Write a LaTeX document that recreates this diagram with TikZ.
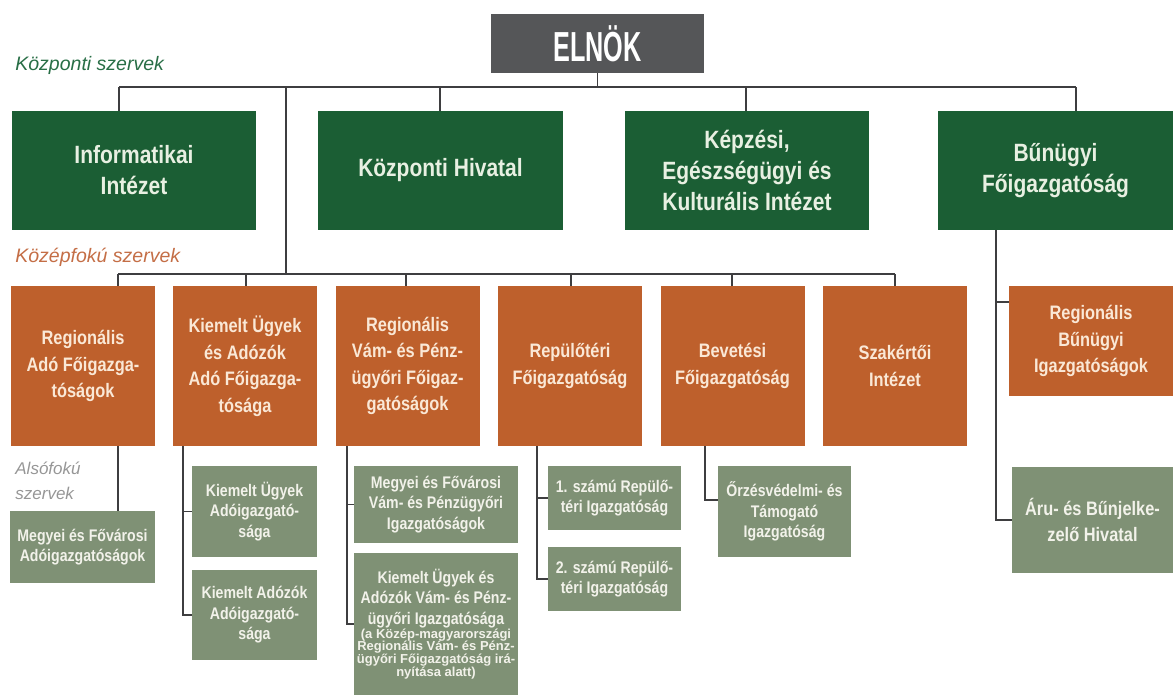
\documentclass[tikz,border=0pt]{standalone}
\usepackage{fontspec}
\setmainfont{Liberation Sans}
\newfontfamily\elnokfont[FakeStretch=0.6]{Liberation Sans Bold}
\newfontfamily\dobozfont[FakeStretch=0.84]{Liberation Sans Bold}
\newfontfamily\aprofont{Liberation Sans Bold}

\definecolor{elnokszurke}{RGB}{85,86,88}
\definecolor{kozpzold}{RGB}{27,94,52}
\definecolor{kozepnarancs}{RGB}{190,96,44}
\definecolor{alsoszurke}{RGB}{127,145,117}
\definecolor{vonalszin}{RGB}{62,62,64}
\definecolor{zoldbetu}{RGB}{232,240,226}
\definecolor{narancsbetu}{RGB}{250,232,214}
\definecolor{szurkebetu}{RGB}{242,242,234}
\definecolor{zoldcimke}{RGB}{40,110,70}
\definecolor{narancscimke}{RGB}{196,110,70}
\definecolor{szurkecimke}{RGB}{150,150,150}

\begin{document}
\begin{tikzpicture}[x=1pt, y=-1pt, thick,
  doboz/.style={rectangle, inner sep=0pt, align=center},
  zold/.style={doboz, fill=kozpzold, text=zoldbetu, minimum width=244pt, minimum height=119pt,
    font=\dobozfont\fontsize{25}{31}\selectfont},
  narancs/.style={doboz, fill=kozepnarancs, text=narancsbetu, minimum width=144pt, minimum height=160pt,
    font=\dobozfont\fontsize{19.5}{26.5}\selectfont},
  szurke/.style={doboz, fill=alsoszurke, text=szurkebetu, minimum width=125pt,
    font=\dobozfont\fontsize{16.8}{20.5}\selectfont},
  cimke/.style={anchor=west, inner sep=0pt, align=left, font=\itshape\fontsize{19.5}{25}\selectfont},
  vonal/.style={draw=vonalszin, line width=1.6pt}]
  \useasboundingbox (0,0) rectangle (1173,697);

  \node (Elnok) [doboz, fill=elnokszurke, text=white, minimum width=213pt, minimum height=59pt,
    font=\elnokfont\fontsize{42}{42}\selectfont] at (597.5,43.5) {ELNÖK};

  % kozponti szervek
  \node (Info)    [zold]                    at (134,170.5)    {Informatikai\\Intézet};
  \node (KozpHiv) [zold, minimum width=245pt] at (440.5,170.5) {Központi Hivatal};
  \node (Kepz)    [zold]                    at (747,170.5)    {Képzési,\\Egészségügyi és\\Kulturális Intézet};
  \node (BunFo)   [zold, minimum width=235pt] at (1055.5,170.5) {Bűnügyi\\Főigazgatóság};

  % kozepfoku szervek
  \node (RegAdo)   [narancs] at (83,366)    {Regionális\\Adó Főigazga-\\tóságok};
  \node (KiemAdo)  [narancs] at (245,366)   {Kiemelt Ügyek\\és Adózók\\Adó Főigazga-\\tósága};
  \node (RegVam)   [narancs] at (407.5,366) {Regionális\\Vám- és Pénz-\\ügyőri Főigaz-\\gatóságok};
  \node (Repter)   [narancs] at (570,366)   {Repülőtéri\\Főigazgatóság};
  \node (Bevet)    [narancs] at (732.5,366) {Bevetési\\Főigazgatóság};
  \node (Szakerto) [narancs] at (895,366)   {Szakértői\\Intézet};
  \node (RegBun)   [narancs, minimum width=164pt, minimum height=110pt] at (1091,341)
    {Regionális\\Bűnügyi\\Igazgatóságok};

  % alsofoku szervek
  \node (MegyeiAdo) [szurke, minimum width=145pt, minimum height=72pt] at (82.5,547)
    {Megyei és Fővárosi\\Adóigazgatóságok};
  \node (KiemUgy)   [szurke, minimum height=91pt] at (254.5,511.5) {Kiemelt Ügyek\\Adóigazgató-\\sága};
  \node (KiemAdozo) [szurke, minimum height=90pt] at (254.5,615)   {Kiemelt Adózók\\Adóigazgató-\\sága};
  \node (MegyeiVam) [szurke, minimum width=164pt, minimum height=77pt] at (436,504.5)
    {Megyei és Fővárosi\\Vám- és Pénzügyőri\\Igazgatóságok};
  \node (KiemVam)   [szurke, align=flush center, minimum width=164pt, minimum height=142pt, text width=164pt]
    at (436,624)
    {Kiemelt Ügyek és\\Adózók Vám- és Pénz-\\ügyőri Igazgatósága\par
     \aprofont\fontsize{13}{12.8}\selectfont (a Közép-magyarországi\\Regionális Vám- és Pénz-\\ügyőri Főigazgatóság irá-\\nyítása alatt)\par};
  \node (Repter1) [szurke, minimum width=133pt, minimum height=64pt] at (614.5,498) {1. számú Repülő-\\téri Igazgatóság};
  \node (Repter2) [szurke, minimum width=133pt, minimum height=64pt] at (614.5,579) {2. számú Repülő-\\téri Igazgatóság};
  \node (Orzes)   [szurke, minimum width=133pt, minimum height=91pt] at (784.5,511.5)
    {Őrzésvédelmi- és\\Támogató\\Igazgatóság};
  \node (Aru)     [szurke, minimum width=161pt, minimum height=106pt,
    font=\dobozfont\fontsize{19.5}{26.5}\selectfont] at (1092.5,520) {Áru- és Bűnjelke-\\zelő Hivatal};

  \node (KozpCimke)  [cimke, text=zoldcimke]    at (15,65)  {Központi szervek};
  \node (KozepCimke) [cimke, text=narancscimke] at (15,257) {Középfokú szervek};
  \node (AlsoCimke)  [cimke, text=szurkecimke, font=\itshape\fontsize{17}{25}\selectfont] at (15,481)
    {Alsófokú\\szervek};

  % vonalak
  \coordinate (FelsoBal)  at (119,87);
  \coordinate (FelsoJobb) at (1076,87);
  \coordinate (KozepBal)  at (118,274);
  \coordinate (KozepJobb) at (895,274);
  \coordinate (TorzsFent) at (286,87);
  \coordinate (OrzesBe)   at (718,500);

  \draw[vonal] (FelsoBal) -- (FelsoJobb);
  \draw[vonal] (Elnok.south) -- (Elnok.south |- FelsoBal);
  \foreach \x/\n in {119/Info, 440/KozpHiv, 746/Kepz, 1076/BunFo}
    \draw[vonal] (\x,87) -- (\x,87 |- \n.north);
  \draw[vonal] (TorzsFent) -- (TorzsFent |- KozepBal);
  \draw[vonal] (KozepBal) -- (KozepJobb);
  \foreach \x/\n in {118/RegAdo, 246/KiemAdo, 406/RegVam, 571/Repter, 732/Bevet, 895/Szakerto}
    \draw[vonal] (\x,274) -- (\x,274 |- \n.north);

  \draw[vonal] (996,0 |- BunFo.south) |- (Aru.west);
  \draw[vonal] (996,302) -- (996,302 -| RegBun.west);

  \draw[vonal] (118,0 |- RegAdo.south) -- (118,0 |- MegyeiAdo.north);
  \draw[vonal] (183,0 |- KiemAdo.south) |- (KiemAdozo.west);
  \draw[vonal] (183,0 |- KiemUgy.west) -- (KiemUgy.west);
  \draw[vonal] (347,0 |- RegVam.south) |- (KiemVam.west);
  \draw[vonal] (347,0 |- MegyeiVam.west) -- (MegyeiVam.west);
  \draw[vonal] (537,0 |- Repter.south) |- (Repter2.west);
  \draw[vonal] (537,0 |- Repter1.west) -- (Repter1.west);
  \draw[vonal] (705,0 |- Bevet.south) |- (OrzesBe);
\end{tikzpicture}
\end{document}
